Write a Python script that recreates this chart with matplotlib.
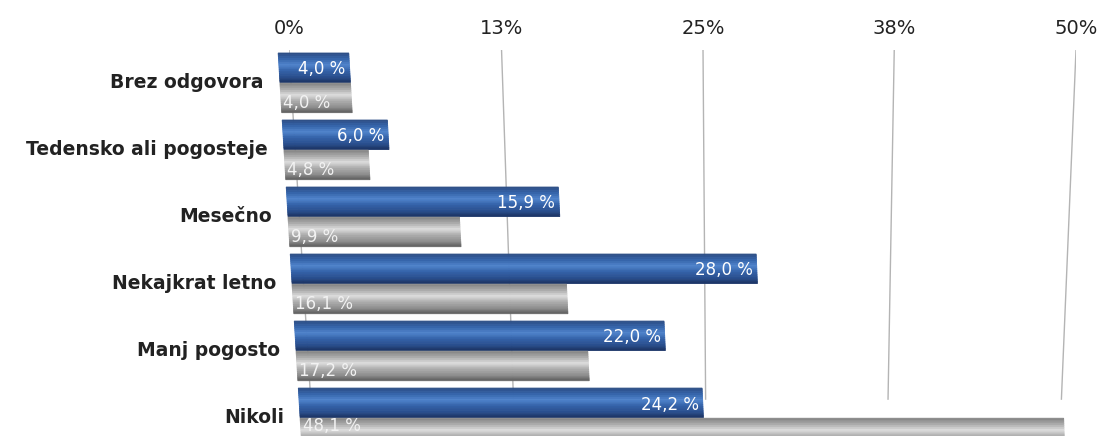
import matplotlib
matplotlib.use('Agg')
import matplotlib.pyplot as plt
import matplotlib.transforms as mtransforms
from matplotlib.colors import LinearSegmentedColormap
import numpy as np

categories = ['Brez odgovora', 'Tedensko ali pogosteje', 'Mesečno',
              'Nekajkrat letno', 'Manj pogosto', 'Nikoli']
blue_vals = [4.0, 6.0, 15.9, 28.0, 22.0, 24.2]
gray_vals = [4.0, 4.8, 9.9, 16.1, 17.2, 48.1]
tick_vals = [0, 12.5, 25, 37.5, 50]
tick_labels = ['0%', '13%', '25%', '38%', '50%']


class Persp(mtransforms.Transform):
    """fake 3d look: shifts/shrinks x (axes coords) depending on depth (1 - y)"""
    input_dims = 2
    output_dims = 2
    is_separable = False

    def __init__(self, off0, off1, sc0, sc1):
        super().__init__()
        self.off0, self.off1, self.sc0, self.sc1 = off0, off1, sc0, sc1

    def transform_non_affine(self, values):
        values = np.asarray(values, dtype=float)
        u, v = values[:, 0], values[:, 1]
        d = 1 - v
        off = self.off0 + (self.off1 - self.off0) * d
        sc = self.sc0 + (self.sc1 - self.sc0) * d
        return np.column_stack([off + u * sc, v])


b = 0.0022
fwd = lambda x: x / (1 + b * x)
inv = lambda g: g / (1 - b * g)

fig = plt.figure(figsize=(11.04, 4.36), dpi=100)
ax = fig.add_axes([289 / 1104, 0, 787 / 1104, 386 / 436])
ax.set_xscale('function', functions=(fwd, inv))
ax.set_xlim(0, 50)
ax.set_ylim(5.27, -0.49)

to_axes = ax.transData + ax.transAxes.inverted()
bar_tr = to_axes + Persp(-0.014, 0.0155, 1.019, 1.004) + ax.transAxes
wall_tr = to_axes + Persp(0.0, 0.0305, 1.0, 0.949) + ax.transAxes

# back wall gridlines
ax.vlines(tick_vals, -0.49, 4.73, colors='#b4b4b4', linewidth=1.0,
          transform=wall_tr, zorder=0)

blue_cmap = LinearSegmentedColormap.from_list('b', [
    (0.0, '#2a4a80'), (0.2, '#3462a8'), (0.42, '#4f84cc'),
    (0.6, '#3564ab'), (0.85, '#284c8a'), (1.0, '#1a3263')])
gray_cmap = LinearSegmentedColormap.from_list('g', [
    (0.0, '#808080'), (0.2, '#a6a6a6'), (0.42, '#dedede'),
    (0.6, '#b0b0b0'), (0.85, '#8a8a8a'), (1.0, '#5e5e5e')])

y = np.arange(len(categories))
h = 0.44
n = 16
for vals, cmap, off in [(blue_vals, blue_cmap, -0.225), (gray_vals, gray_cmap, 0.225)]:
    for k in range(n):
        t = (k + 0.5) / n
        c = cmap(t)
        ax.barh(y + off - h / 2 + t * h, vals, height=h / n, color=c,
                edgecolor=c, linewidth=0.6, transform=bar_tr, clip_on=False,
                zorder=2)

for i, (bv, gv) in enumerate(zip(blue_vals, gray_vals)):
    ax.text(bv, i - 0.2, f'{bv:.1f} %'.replace('.', ','), ha='right', va='center',
            color='white', fontsize=12, zorder=5, clip_on=False,
            transform=bar_tr + mtransforms.Affine2D().translate(-4, 0))
    # last row sits at the bottom edge, keep its label inside the picture
    gy = i + 0.3 if i < 5 else i + 0.12
    ax.text(0, gy, f'{gv:.1f} %'.replace('.', ','), ha='left', va='center',
            color='#f2f2f2', fontsize=12, zorder=5, clip_on=False,
            transform=bar_tr + mtransforms.Affine2D().translate(2, 0))
    ax.text(0, i, categories[i], ha='right', va='center', color='#222222',
            fontsize=13.5, fontweight='bold', clip_on=False,
            transform=bar_tr + mtransforms.Affine2D().translate(-16, 0))

ax.xaxis.tick_top()
ax.set_xticks(tick_vals)
ax.set_xticklabels(tick_labels, fontsize=14, color='#222222')
ax.xaxis.set_minor_locator(matplotlib.ticker.NullLocator())
ax.tick_params(axis='x', length=0, pad=9)
ax.set_yticks([])
for s in ax.spines.values():
    s.set_visible(False)
ax.patch.set_alpha(0)

fig.savefig('out.png', dpi=100)
